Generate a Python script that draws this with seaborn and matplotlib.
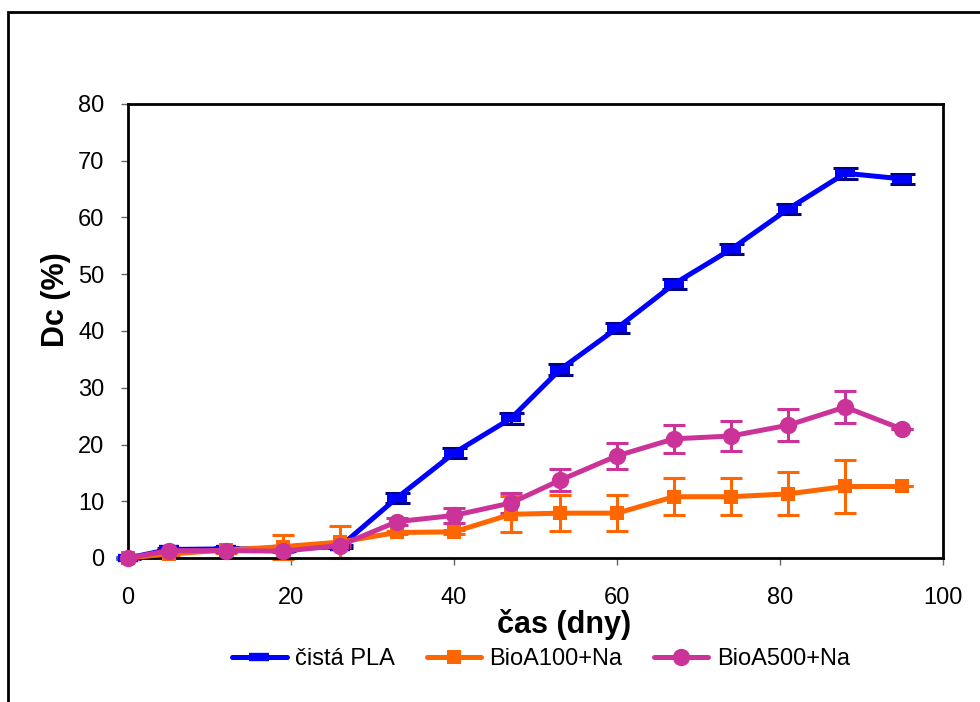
import numpy as np
import pandas as pd
import matplotlib
matplotlib.use("Agg")
import matplotlib.pyplot as plt
import matplotlib.patches as mpatches
import seaborn as sns

# ---- data ----
days = [0, 5, 12, 19, 26, 33, 40, 47, 53, 60, 67, 74, 81, 88, 95]
pla = [0, 1.5, 1.6, 1.6, 2.0, 10.6, 18.5, 24.6, 33.2, 40.5, 48.3, 54.4, 61.5, 67.8, 66.8]
pla_err = [0.2, 0.3, 0.3, 0.3, 0.3, 0.9, 0.9, 0.9, 0.9, 0.9, 0.9, 0.9, 0.9, 1.0, 0.9]
bio100 = [0, 0.7, 1.4, 2.0, 2.8, 4.5, 4.6, 7.7, 7.9, 7.9, 10.8, 10.8, 11.3, 12.6, 12.6]
bio100_err = [0.1, 0.4, 0.5, 2.1, 2.8, 0.3, 0.3, 3.2, 3.2, 3.2, 3.3, 3.3, 3.8, 4.6, 0]
bio500 = [0, 1.3, 1.3, 1.2, 2.2, 6.4, 7.5, 9.7, 13.7, 18.0, 21.0, 21.5, 23.4, 26.6, 22.7]
bio500_err = [0.1, 0.2, 0.2, 0.2, 0.3, 0.6, 1.3, 1.7, 1.9, 2.3, 2.5, 2.6, 2.8, 2.8, 0]
labels = ["čistá PLA", "BioA100+Na", "BioA500+Na"]
xticks = [0, 20, 40, 60, 80, 100]
yticks = [0, 10, 20, 30, 40, 50, 60, 70, 80]

sns.set_theme(style="white")
plt.rcParams['font.family'] = ['Liberation Sans', 'DejaVu Sans']
plt.rcParams['text.color'] = 'black'

fig = plt.figure(figsize=(9.8, 7.02), dpi=100)
ax = fig.add_axes([128/980, 1-558/702, (943-128)/980, (558-104)/702])

blue, navy, orange, pink = "#0000FF", "#000080", "#FF6600", "#CC3399"
lw = 3.6

series = [
    (pla, pla_err, blue, navy, dict(marker='_', markersize=15, markeredgewidth=6), 9),
    (bio100, bio100_err, orange, orange, dict(marker='s', markersize=10.5, markeredgewidth=0), 8),
    (bio500, bio500_err, pink, pink, dict(marker='o', markersize=12.5, markeredgewidth=0), 8),
]

for (vals, errs, col, ecol, mk, cap), lab in zip(series, labels):
    df = pd.DataFrame({"day": days, "val": vals})
    ax.errorbar(days, vals, yerr=errs, fmt='none', ecolor=ecol, elinewidth=2.2,
                capsize=cap, capthick=2.2, zorder=2, clip_on=False)
    sns.lineplot(data=df, x="day", y="val", color=col, linewidth=lw, ax=ax,
                 label=lab, legend=False, clip_on=False, zorder=3,
                 markeredgecolor=col, markerfacecolor=col, **mk)

ax.set_xlim(0, 100)
ax.set_ylim(0, 80)
ax.set_xticks(xticks)
ax.set_yticks(yticks)
ax.tick_params(axis='both', which='both', direction='out', length=5, width=1,
               color='#666666', labelsize=17, labelcolor='black',
               bottom=True, left=True)
ax.tick_params(axis='x', pad=16)
ax.tick_params(axis='y', pad=12)
for s in ax.spines.values():
    s.set_visible(True)
    s.set_color('black')
    s.set_linewidth(2)
ax.set_xlabel("")
ax.set_ylabel("")

fig.text(564/980, 1-625/702, "čas (dny)", ha='center', va='center',
         fontsize=22, fontweight='bold', color='black')
fig.text(56/980, 1-300/702, "Dc (%)", ha='center', va='center',
         fontsize=22, fontweight='bold', rotation=90, color='black')

lines = [l for l in ax.get_lines() if l.get_label() in labels]
fig.legend(lines, labels, loc='center', bbox_to_anchor=(541/980, 1-659/702),
           ncol=3, frameon=False, fontsize=17, handlelength=2.3,
           handletextpad=0.35, columnspacing=1.35, borderaxespad=0)

fig.patches.append(mpatches.Rectangle((8/980, -0.2), 1.2, 0.2 + (1-12/702),
                                      transform=fig.transFigure, fill=False,
                                      edgecolor='black', linewidth=2))

fig.savefig("out.png", dpi=100, facecolor='white')
